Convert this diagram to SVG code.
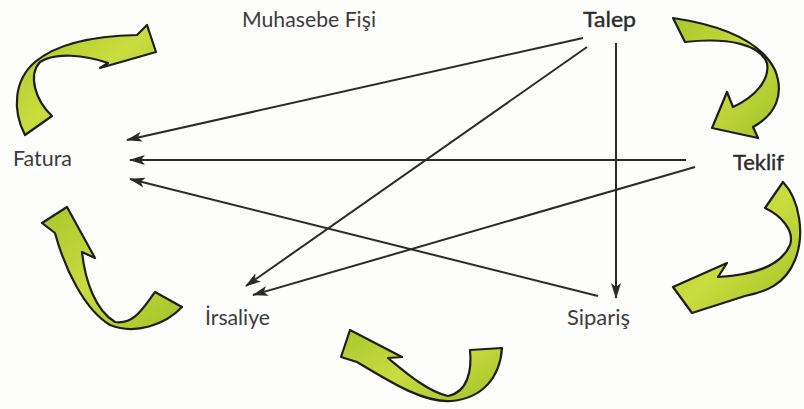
<svg xmlns="http://www.w3.org/2000/svg" width="804" height="409" viewBox="0 0 804 409">
<style>
.lbl{font-family:Lato,"Open Sans","Liberation Sans",sans-serif;font-size:21px;fill:#3c3c3c}
.dark{fill:#2c2c2c;stroke:#2c2c2c;stroke-width:0.4}
.edge{stroke:#2a2a2a;stroke-width:2;fill:none;marker-end:url(#ah)}
.cyc{fill:url(#gg);stroke:#1e1e1e;stroke-width:2.2;stroke-linejoin:round}
</style>
<defs>
<marker id="ah" viewBox="0 0 16 10" refX="15" refY="5" markerWidth="8" markerHeight="5" orient="auto" markerUnits="strokeWidth">
<path d="M0,0 L16,5 L0,10 L4,5 Z" fill="#2a2a2a"/>
</marker>
<linearGradient id="gg" x1="0" y1="0" x2="1" y2="1">
<stop offset="0" stop-color="#a9c72e"/>
<stop offset="0.5" stop-color="#c8dc3e"/>
<stop offset="1" stop-color="#a2c22a"/>
</linearGradient>
</defs>
<rect width="804" height="409" fill="#fdfefc"/>
<g id="connectors">
<line class="edge" x1="583" y1="38" x2="127" y2="140"/>
<line class="edge" x1="587" y1="47" x2="246" y2="286"/>
<line class="edge" x1="616" y1="43" x2="616" y2="298"/>
<line class="edge" x1="686" y1="160" x2="130" y2="160"/>
<line class="edge" x1="695" y1="167" x2="253" y2="295"/>
<line class="edge" x1="598" y1="296" x2="130" y2="179"/>
</g>
<g id="cycle-arrows">
<path class="cyc" d="M25,135 C12,110 14,80 35,62 C55,45 90,36 137,35 L147,25 L156,52 L100,68 L108,63 C85,55 55,52 40,62 C28,75 35,100 52,116 Z"/>
<path class="cyc" d="M673,18 C720,25 760,40 775,70 C785,95 775,115 753,127 L758,138 L712,128 L727,92 L733,107 C755,97 770,80 767,63 C760,45 730,37 685,42 Z"/>
<path class="cyc" d="M783,182 C800,200 805,235 795,260 C785,285 765,292 745,296 L692,313 L673,287 L727,263 L718,277 C750,275 780,268 790,245 C795,230 780,215 765,208 Z"/>
<path class="cyc" d="M502,348 C500,378 482,398 452,401 C425,403 395,385 357,362 L341,357 L350,330 L402,357 L388,358 C405,372 428,392 448,396 C468,392 472,370 470,350 Z"/>
<path class="cyc" d="M182,307 C165,325 135,335 110,325 C85,310 65,270 55,233 L42,223 L67,207 L95,258 L82,252 C85,280 95,310 115,322 C135,325 145,305 155,292 Z"/>
</g>
<g id="node-muhasebe"><text class="lbl" x="242" y="27" textLength="134" lengthAdjust="spacingAndGlyphs">Muhasebe Fişi</text></g>
<g id="node-talep"><text class="lbl dark" x="583" y="27" textLength="53" lengthAdjust="spacingAndGlyphs">Talep</text></g>
<g id="node-fatura"><text class="lbl" x="13" y="166" textLength="59" lengthAdjust="spacingAndGlyphs">Fatura</text></g>
<g id="node-teklif"><text class="lbl dark" x="733" y="170" textLength="51" lengthAdjust="spacingAndGlyphs">Teklif</text></g>
<g id="node-irsaliye"><text class="lbl" x="205" y="325" textLength="65" lengthAdjust="spacingAndGlyphs">İrsaliye</text></g>
<g id="node-siparis"><text class="lbl" x="567" y="325" textLength="63" lengthAdjust="spacingAndGlyphs">Sipariş</text></g>
</svg>
